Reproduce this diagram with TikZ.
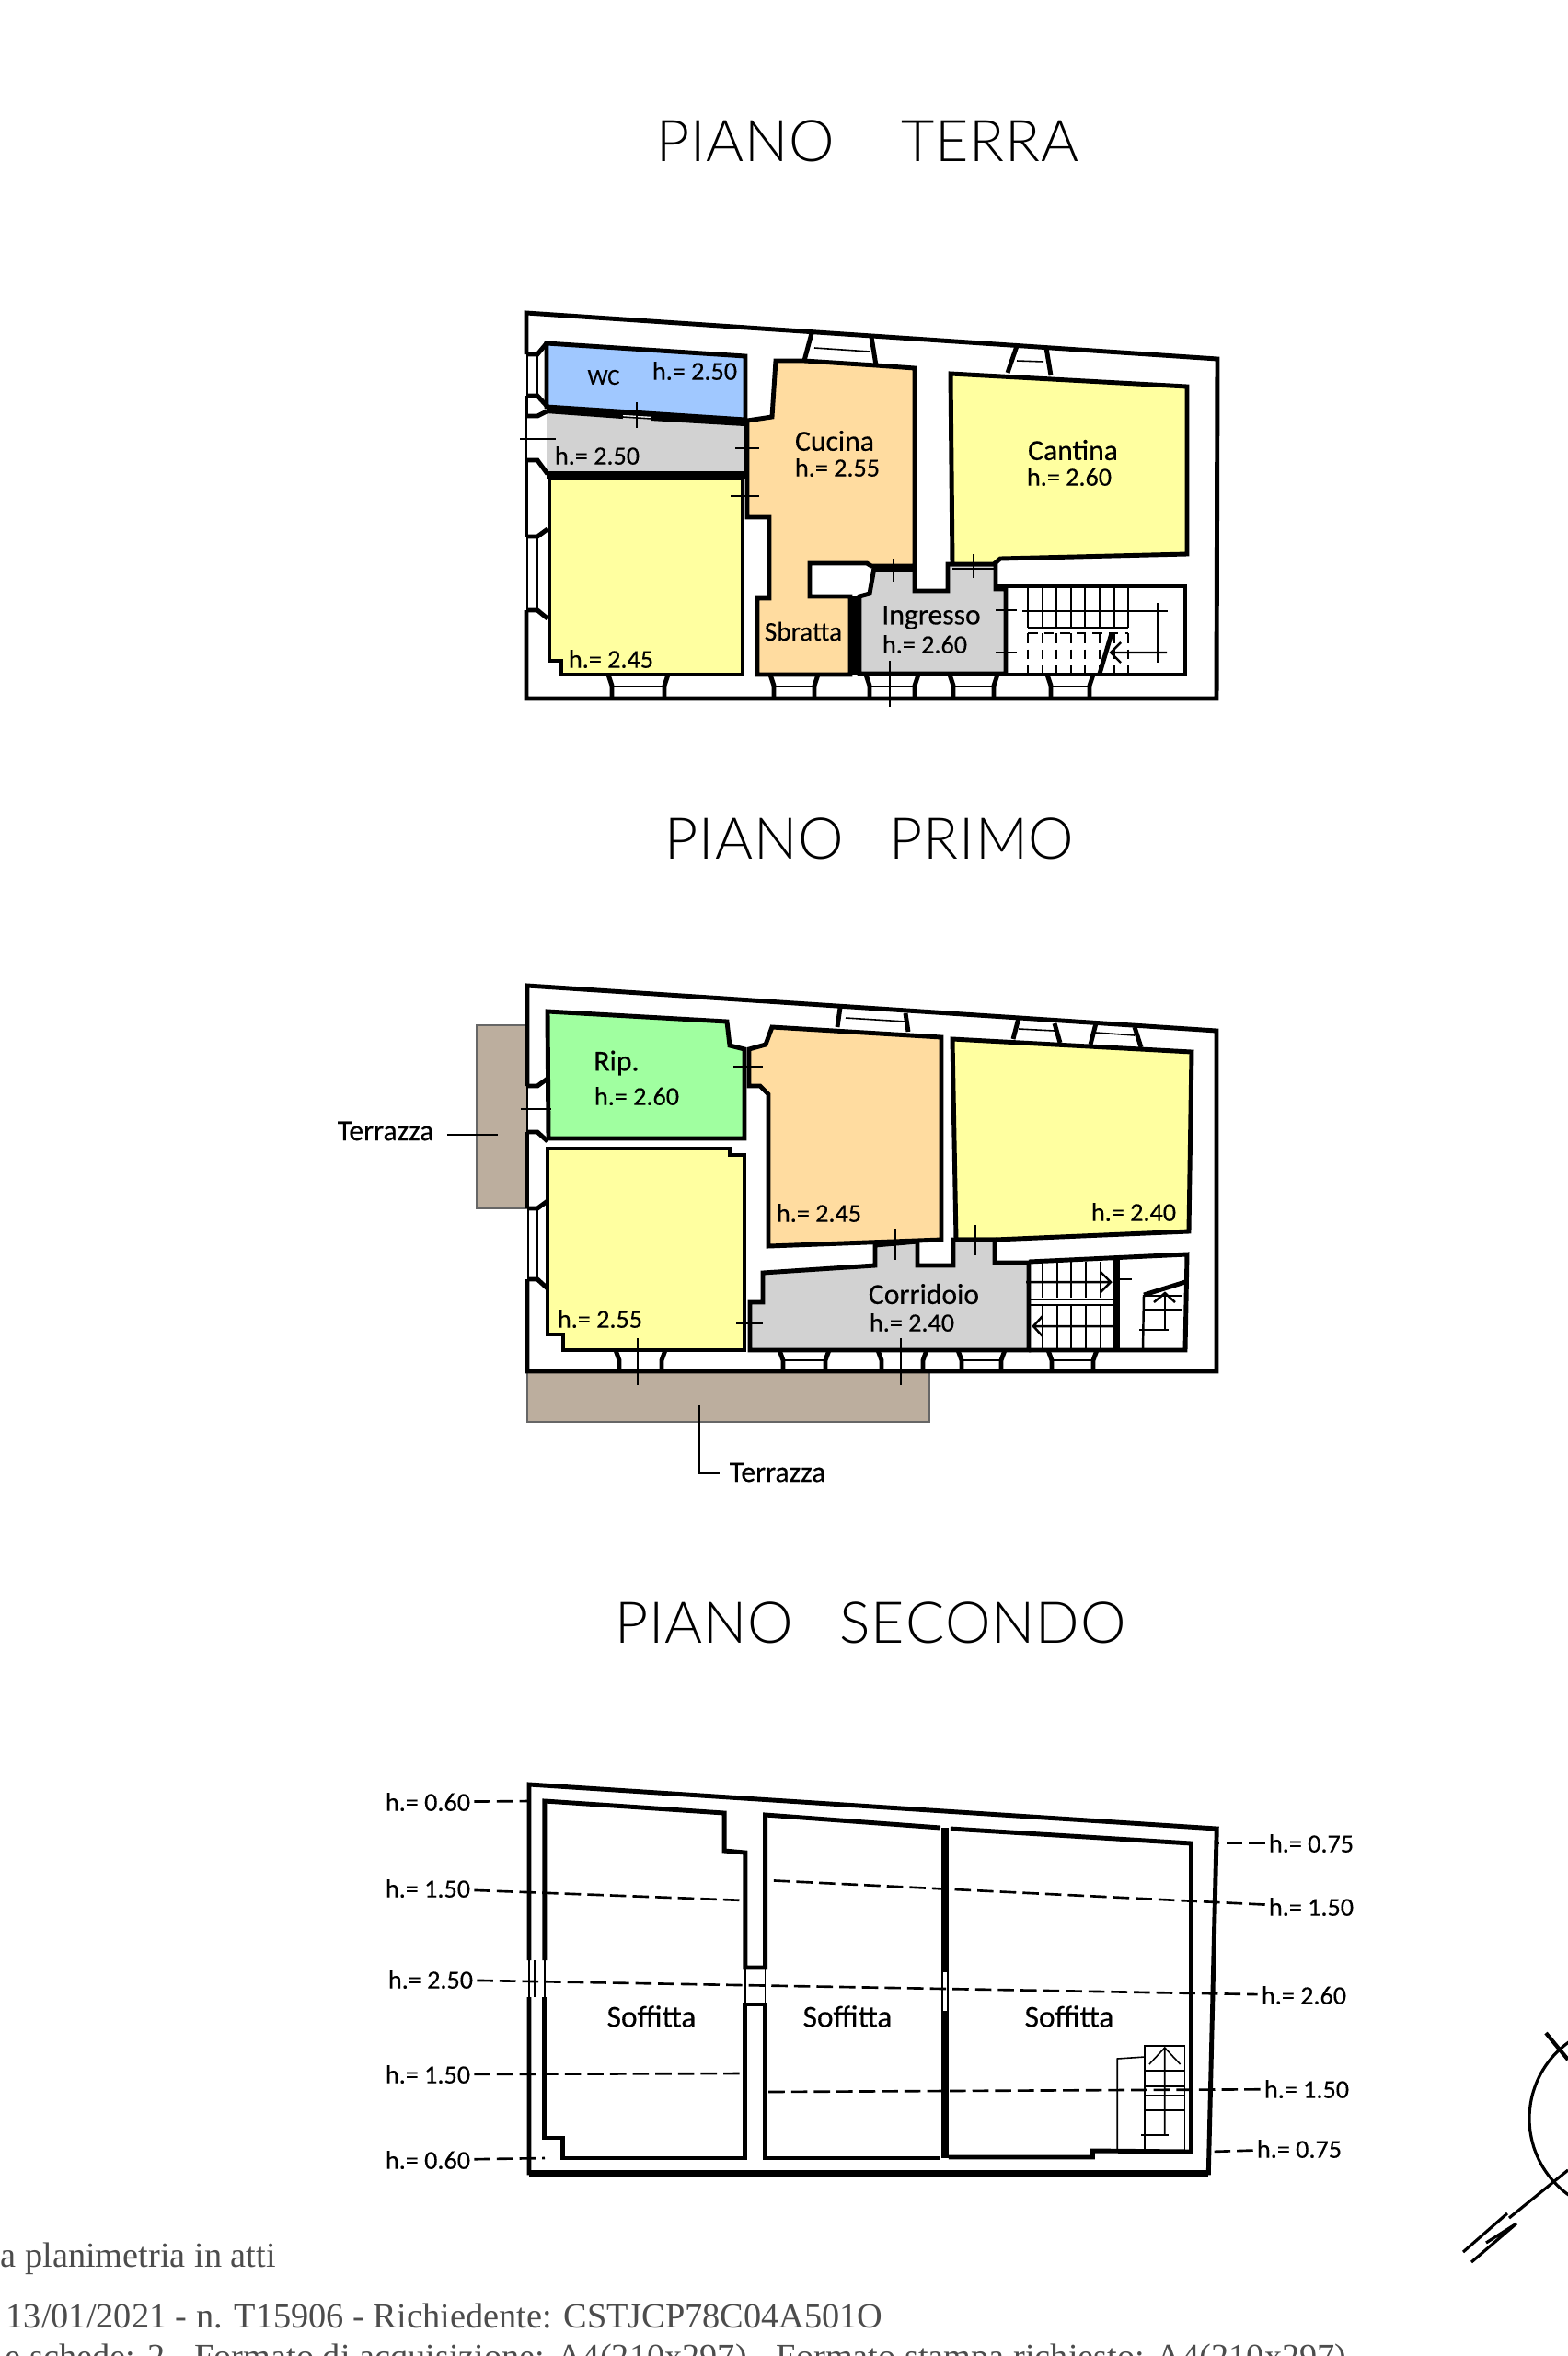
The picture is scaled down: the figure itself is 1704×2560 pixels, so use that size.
\documentclass[tikz,border=0pt]{standalone}
\usepackage{fontspec}
\setmainfont{Liberation Serif}
\newfontfamily\planfont[FakeBold=0.35]{Carlito}
\newfontfamily\titlefont[LetterSpace=1.5,Kerning=Off]{Lato Light}
\usetikzlibrary{positioning,calc}

\definecolor{bagno}{HTML}{A0C8FF}
\definecolor{cucina}{HTML}{FFDCA0}
\definecolor{camera}{HTML}{FFFFA0}
\definecolor{grigio}{HTML}{D2D2D2}
\definecolor{ripost}{HTML}{A0FFA0}
\definecolor{terrazza}{HTML}{BCAE9E}

\tikzset{
	muro/.style={line width=1.4pt,line join=miter},
	sottile/.style={line width=.45pt},
	stanza/.style={draw=black,line width=1.4pt,line join=miter},
	scala/.style={line width=.7pt},
	quota/.style={line width=.75pt,dash pattern=on 5pt off 2pt},
	titolo/.style={font=\titlefont\fontsize{17.8}{20}\selectfont,inner sep=0pt},
	testo/.style={font=\planfont\fontsize{9}{10}\selectfont,inner sep=0pt},
	altezza/.style={font=\planfont\fontsize{8}{10}\selectfont,inner sep=1pt},
	nota/.style={font=\fontsize{10.9}{13}\selectfont,text=black!70,inner sep=0pt},
}

\begin{document}
\begin{tikzpicture}[x=0.01cm,y=-0.01cm]
	\useasboundingbox (0,0) rectangle (1704,2560);
	\clip (0,0) rectangle (1704,2560);
	
	%--- Titoli ---
	\node[titolo] (titoloT) at (943,153) {PIANO\hspace{1.15em}TERRA};
	\node[titolo] (titoloP) at (945,911) {PIANO\hspace{.8em}PRIMO};
	\node[titolo] (titoloS) at (946,1763) {PIANO\hspace{.8em}SECONDO};
	
	%--- Piano terra: stanze ---
	\begin{scope}[xshift=-.03cm]
	\draw[stanza,fill=bagno] (597,373) -- (813,387) -- (813,456) -- (597,442) -- cycle;
	\draw[stanza,fill=grigio,draw=none] (597,448) -- (813,461) -- (813,512) -- (597,512) -- cycle;
	\draw[stanza,fill=camera] (600,520) -- (810,520) -- (810,733) -- (613,733) -- (613,718) -- (600,718) -- cycle;
	\draw[stanza,fill=cucina] (846,392) -- (877,392) -- (955,397) -- (997,400) -- (997,615) -- (950,615) -- (945,612) -- (883,612) -- (883,648) -- (927,648) -- (927,733) -- (826,733) -- (826,650) -- (839,650) -- (839,562) -- (815,562) -- (815,457) -- (842,453) -- cycle;
	\draw[stanza,fill=grigio] (953,617) -- (997,617) -- (997,642) -- (1033,642) -- (1033,613) -- (1085,613) -- (1085,640) -- (1096,640) -- (1096,732) -- (937,732) -- (937,648) -- (948,645) -- cycle;
	\draw[stanza,fill=camera] (1036,406) -- (1293,420) -- (1293,602) -- (1090,607) -- (1083,613) -- (1038,613) -- cycle;
	\fill (927,648) rectangle (937,733);
	
	%--- Piano terra: tramezzi e porte ---
	\draw[line width=2.3pt] (597,445) -- (680,451) (711,453) -- (813,459);
	\draw[sottile] (680,450) -- (711,452) (680,453) -- (711,455);
	\draw[line width=2.3pt] (597,516) -- (813,516);
	\draw[muro] (813,456) -- (813,512);
	\draw[sottile] (815,457) -- (815,562);
	\draw[sottile] (695,437) -- (695,465) (802,487) -- (828,487) (797,539) -- (828,539);
	\draw[sottile] (973.5,607) -- (973.5,632) (1061,602) -- (1061,628) (970,718) -- (970,768);
	\draw[sottile] (953,620) -- (997,620) (1038,618) -- (1083,618);
	\draw[muro] (885,362) -- (877,392) (950,366) -- (955,397);
	\draw[muro] (1108,376) -- (1098,405) (1140,378) -- (1145,408);
	\draw[sottile] (888,378) -- (948,382) (1108,392) -- (1137,393);
	
	%--- Piano terra: scritte ---
	\node[altezza,font=\planfont\fontsize{7}{8}\selectfont] (wc) at (659,410) {WC};
	\node[altezza] (hwc) at (758,403) {h.= 2.50};
	\node[altezza] (hdis) at (652,495) {h.= 2.50};
	\node[testo] (cuc) at (910,479) {Cucina};
	\node[altezza] (hcuc) at (913,508) {h.= 2.55};
	\node[testo] (can) at (1169,489) {Cantina};
	\node[altezza] (hcan) at (1165,518) {h.= 2.60};
	\node[altezza] (hcam) at (667,716) {h.= 2.45};
	\node[testo,font=\planfont\fontsize{8.3}{10}\selectfont] (sbr) at (876,686) {Sbratta};
	\node[testo] (ing) at (1015,671) {Ingresso};
	\node[altezza] (hing) at (1008,700) {h.= 2.60};
	\end{scope}
	
	%--- Piano terra: muri esterni ---
	\draw[muro] (572,385) -- (572,340) -- (1323,390) -- (1322,759) -- (572,759) -- (572,663);
	\draw[muro] (572,583) -- (572,500);
	\draw[muro] (572,452) -- (572,430);
	\draw[sottile] (573,385) -- (573,430) (572,452) -- (572,500) (573,583) -- (573,663);
	\draw[muro] (572,385) -- (584,385) -- (594,373);
	\draw[muro] (572,430) -- (584,430) -- (595,442);
	\draw[muro] (572,452) -- (584,452) -- (594,447);
	\draw[muro] (572,500) -- (584,500) -- (595,515);
	\draw[muro] (572,583) -- (584,583) -- (595,575);
	\draw[muro] (572,663) -- (584,663) -- (595,672);
	\draw[sottile] (584,385) -- (584,430) (584,583) -- (584,663) (565,477) -- (604,477);
	
	%--- Piano terra: finestre ---
	\foreach \a/\b in {665/722,841/885,945/994,1036/1080,1142/1184} {
		\draw[muro] (\a-4,733) -- (\a,745) -- (\a,759);
		\draw[muro] (\b+4,733) -- (\b,745) -- (\b,759);
		\draw[sottile] (\a,746) -- (\b,746);
	}
	
	%--- Piano terra: scala ---
	\draw[muro] (1082,637) -- (1288,637) -- (1288,733) -- (1093,733);
	\foreach \x in {1117,1133,1148,1164,1179,1195,1211,1226} {
		\draw[scala] (\x,638) -- (\x,682);
		\draw[scala,densely dashed] (\x,688) -- (\x,732);
	}
	\draw[scala] (1117,682) -- (1226,682);
	\draw[scala,densely dashed] (1117,688) -- (1226,688);
	\draw[scala] (1111,664) -- (1269,664) (1258,655) -- (1258,720);
	\draw[scala] (1082,663) -- (1105,663) (1082,709) -- (1105,709);
	\draw[scala] (1268,709) -- (1207,709) (1218,698) -- (1207,709) -- (1218,720);
	\draw[muro] (1208,688) -- (1195,732);
	
	%--- Piano primo: terrazze ---
	\fill[terrazza] (518,1114) rectangle (573,1313);
	\fill[terrazza] (573,1492) rectangle (1010,1545);
	\draw[sottile,black!60] (573,1114) -- (518,1114) -- (518,1313) -- (573,1313);
	\draw[sottile,black!60] (573,1492) -- (573,1545) -- (1010,1545) -- (1010,1492);
	
	%--- Piano primo: stanze ---
	\begin{scope}[xshift=-.03cm]
	\draw[stanza,fill=ripost] (598,1099) -- (793,1110) -- (796,1136) -- (812,1140) -- (812,1237) -- (599,1237) -- cycle;
	\draw[stanza,fill=camera] (598,1248) -- (796,1248) -- (796,1255) -- (812,1255) -- (812,1467) -- (615,1467) -- (615,1450) -- (598,1450) -- cycle;
	\draw[stanza,fill=cucina] (842,1116) -- (1026,1127) -- (1026,1347) -- (838,1354) -- (838,1189) -- (829,1180) -- (817,1180) -- (817,1140) -- (835,1135) -- cycle;
	\draw[stanza,fill=camera] (1038,1129) -- (1298,1143) -- (1295,1338) -- (1084,1347) -- (1042,1347) -- cycle;
	\draw[stanza,fill=grigio] (818,1415) -- (832,1415) -- (832,1383) -- (954,1375) -- (954,1353) -- (1000,1349) -- (1000,1375) -- (1039,1375) -- (1039,1347) -- (1084,1347) -- (1084,1372) -- (1121,1372) -- (1121,1467) -- (818,1467) -- cycle;
	
	%--- Piano primo: porte e finestre ---
	\draw[sottile] (812,1140) -- (812,1180) (817,1415) -- (817,1467);
	\draw[sottile] (800,1159) -- (832,1159) (803,1438) -- (832,1438);
	\draw[sottile] (976,1335) -- (976,1369) (1063,1331) -- (1063,1364);
	\draw[muro] (916,1095) -- (913,1116) (987,1101) -- (990,1121);
	\draw[muro] (1110,1106) -- (1104,1129) (1149,1112) -- (1155,1133);
	\draw[muro] (1194,1112) -- (1188,1135) (1236,1116) -- (1243,1138);
	\draw[sottile] (922,1106) -- (987,1110) (1110,1118) -- (1149,1120) (1194,1122) -- (1236,1125);
	
	%--- Piano primo: scritte ---
	\node[testo] (rip) at (673,1155) {Rip.};
	\node[altezza] (hrip) at (695,1191) {h.= 2.60};
	\node[altezza] (hori) at (893,1318) {h.= 2.45};
	\node[altezza] (hdes) at (1235,1317) {h.= 2.40};
	\node[altezza] (hsin) at (655,1433) {h.= 2.55};
	\node[testo] (cor) at (1007,1406) {Corridoio};
	\node[altezza] (hcor) at (994,1437) {h.= 2.40};
	\end{scope}
	\node[testo] (terA) at (419,1229) {Terrazza};
	\node[testo] (terB) at (845,1600) {Terrazza};
	\coordinate (puntoA) at (541,1233);
	\coordinate (puntoB) at (760,1527);
	\draw[line width=.7pt] (terA.east) ++(14,4) -- (puntoA);
	\draw[line width=.7pt] (puntoB) |- ($(terB.west)+(-10,1)$);
	
	%--- Piano primo: muri esterni ---
	\draw[muro] (573,1180) -- (573,1071) -- (1322,1120) -- (1322,1490) -- (573,1490) -- (573,1390);
	\draw[muro] (573,1313) -- (573,1230);
	\draw[sottile] (573,1180) -- (573,1230) (574,1313) -- (574,1390) (584,1313) -- (584,1390);
	\draw[muro] (573,1180) -- (584,1180) -- (595,1172);
	\draw[muro] (573,1230) -- (584,1230) -- (595,1240);
	\draw[muro] (573,1313) -- (584,1313) -- (595,1305);
	\draw[muro] (573,1390) -- (584,1390) -- (595,1400);
	\draw[sottile] (566,1205) -- (599,1205);
	\draw[sottile] (693,1454) -- (693,1505) (979,1454) -- (979,1505);
	\foreach \a/\b in {673/719,851/897,958/1003,1045/1088,1143/1188} {
		\draw[muro] (\a-4,1467) -- (\a,1478) -- (\a,1490);
		\draw[muro] (\b+4,1467) -- (\b,1478) -- (\b,1490);
	}
	\foreach \a/\b in {851/897,1045/1088,1143/1188} {
		\draw[sottile] (\a,1478) -- (\b,1478);
	}
	
	%--- Piano primo: scala ---
	\draw[muro] (1118,1371) -- (1290,1363) -- (1288,1467) -- (1118,1467);
	\draw[line width=2pt] (1213,1368) -- (1213,1467);
	\foreach \x in {1133,1149,1164,1180,1196} {
		\draw[scala] (\x,1371) -- (\x,1410);
		\draw[scala] (\x,1418) -- (\x,1467);
	}
	\draw[scala] (1118,1412) -- (1210,1412) (1118,1418) -- (1210,1418);
	\draw[scala] (1115,1393) -- (1207,1393) (1196,1382) -- (1207,1393) -- (1196,1404);
	\draw[scala] (1215,1390) -- (1230,1390);
	\draw[scala] (1210,1441) -- (1123,1441) (1133,1430) -- (1123,1441) -- (1133,1452);
	\draw[muro] (1243,1407) -- (1288,1393);
	\draw[scala] (1243,1407) -- (1242,1467);
	\draw[scala] (1243,1408) -- (1285,1408) (1243,1423) -- (1285,1423);
	\draw[scala] (1266,1407) -- (1266,1445) (1238,1445) -- (1270,1445);
	\draw[scala] (1254,1415) -- (1266,1405) -- (1277,1415);
	
	%--- Piano secondo: muri ---
	\begin{scope}[xshift=.052cm,xscale=.991]
	\draw[muro] (575,2130) -- (575,1939) -- (1329,1987) -- (1320,2361) -- (575,2361) -- (575,2170);
	\draw[line width=2pt] (575,2361) -- (1320,2361);
	\draw[sottile] (575,2130) -- (575,2170) (592,2130) -- (592,2170) (581,2130) -- (581,2170);
	\draw[muro] (592,2130) -- (592,1957) -- (789,1970) -- (789,2011) -- (812,2013) -- (812,2138) -- (834,2138) -- (834,1972) -- (1026,1986);
	\draw[muro] (592,2170) -- (592,2323) -- (612,2323) -- (612,2345) -- (812,2345) -- (812,2178) -- (834,2178) -- (834,2345) -- (1026,2345);
	\draw[sottile] (812,2138) -- (812,2178) (834,2138) -- (834,2178);
	\draw[muro] (1037,1987) -- (1301,2003) -- (1301,2338) -- (1193,2337) -- (1193,2344) -- (1035,2344);
	\draw[line width=2.2pt] (1031,1986) -- (1031,2143) (1031,2185) -- (1031,2345);
	\draw[sottile] (1028,2143) -- (1028,2185) (1034,2143) -- (1034,2185);
	
	%--- Piano secondo: scala ---
	\draw[sottile] (1220,2337) -- (1220,2237) -- (1250,2235);
	\draw[sottile] (1250,2337) -- (1250,2223) -- (1294,2223) -- (1294,2337);
	\foreach \y in {2250,2267,2277,2293} {
		\draw[sottile] (1250,\y) -- (1294,\y);
	}
	\draw[sottile] (1272,2320) -- (1272,2225) (1255,2243) -- (1272,2225) -- (1289,2243);
	\draw[scala] (1246,2320) -- (1276,2320);
	\end{scope}
	
	%--- Piano secondo: quote ---
	\node[altezza] (qa) at (465,1958) {h.= 0.60};
	\node[altezza] (qb) at (465,2052) {h.= 1.50};
	\node[altezza] (qc) at (468,2151) {h.= 2.50};
	\node[altezza] (qd) at (465,2254) {h.= 1.50};
	\node[altezza] (qe) at (465,2347) {h.= 0.60};
	\node[altezza] (qf) at (1425,2003) {h.= 0.75};
	\node[altezza] (qg) at (1425,2072) {h.= 1.50};
	\node[altezza] (qh) at (1417,2168) {h.= 2.60};
	\node[altezza] (qi) at (1420,2270) {h.= 1.50};
	\node[altezza] (ql) at (1412,2335) {h.= 0.75};
	\coordinate (pa) at (575,1957);
	\coordinate (pb) at (810,2065);
	\coordinate (pb2) at (832,2043);
	\coordinate (pd) at (810,2253);
	\coordinate (pd2) at (832,2273);
	\coordinate (pe) at (592,2345);
	\coordinate (pf) at (1323,2003);
	\coordinate (pl) at (1315,2338);
	\draw[quota] (qa) -- (pa);
	\draw[quota] (qb) -- (pb);
	\draw[quota] (qc) -- (qh);
	\draw[quota] (qd) -- (pd);
	\draw[quota] (qe) -- (pe);
	\draw[quota] (qf) -- (pf);
	\draw[quota] (qg) -- (pb2);
	\draw[quota] (qi) -- (pd2);
	\draw[quota] (ql) -- (pl);
	
	%--- Piano secondo: scritte ---
	\node[testo,font=\planfont\fontsize{9.5}{11}\selectfont] (sofA) at (708,2191) {Soffitta};
	\node[testo,font=\planfont\fontsize{9.5}{11}\selectfont] (sofB) at (921,2191) {Soffitta};
	\node[testo,font=\planfont\fontsize{9.5}{11}\selectfont] (sofC) at (1162,2191) {Soffitta};
	
	%--- Simbolo nord ---
	\draw[line width=.9pt] (1764,2302) circle (102);
	\draw[line width=1.2pt] (1680,2209) -- (1704,2238);
	\draw[line width=.9pt] (1704,2358) -- (1640,2410);
	\draw[line width=.9pt] (1590,2447) -- (1638,2405) (1615,2437) -- (1648,2416) (1599,2458) -- (1648,2416);
	
	%--- Note in fondo ---
	\node[nota,anchor=base west] (notaA) at (0,2463) {a planimetria in atti};
	\node[nota,anchor=base west] (notaB) at (6,2529) {13/01/2021 - n. T15906 - Richiedente: CSTJCP78C04A501O};
	\node[nota,anchor=base east] (notaC) at (1464,2573) {e schede: 2 - Formato di acquisizione: A4(210x297) - Formato stampa richiesto: A4(210x297)};
	
\end{tikzpicture}
\end{document}
